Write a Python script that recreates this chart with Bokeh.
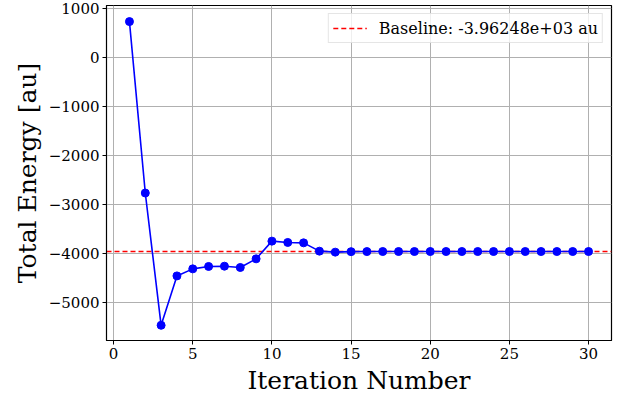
from bokeh.plotting import figure
from bokeh.models import FixedTicker, Range1d, Legend, LegendItem, ColumnDataSource
from bokeh.embed import file_html
from bokeh.resources import INLINE

iterations = [1, 2, 3, 4, 5, 6, 7, 8, 9, 10, 11, 12, 13, 14, 15,
              16, 17, 18, 19, 20, 21, 22, 23, 24, 25, 26, 27, 28, 29, 30]
energy = [740, -2766, -5471, -4461, -4317, -4268, -4262, -4289, -4112, -3750,
          -3777, -3785, -3955, -3975, -3965, -3963, -3962, -3962, -3962, -3962,
          -3962, -3962, -3962, -3962, -3962, -3962, -3962, -3962, -3962, -3962]
baseline = -3962.48
baseline_label = "Baseline: -3.96248e+03 au"
x_ticks = [0, 5, 10, 15, 20, 25, 30]
y_ticks = [-5000, -4000, -3000, -2000, -1000, 0, 1000]

FONT = "DejaVu Serif"

x_lo, x_hi = -0.45, 31.45
p = figure(width=617, height=397, output_backend="svg", toolbar_location=None,
           x_range=Range1d(x_lo, x_hi), y_range=Range1d(-5782, 1069),
           min_border_left=106, min_border_right=6, min_border_top=5, min_border_bottom=57)
p.background_fill_color = "white"
p.border_fill_color = "white"
p.outline_line_color = "black"
p.outline_line_width = 1.2

bsrc = ColumnDataSource(dict(x=[x_lo, x_hi], y=[baseline, baseline]))
base_r = p.line("x", "y", source=bsrc, line_color="#ff0000", line_dash="5 3", line_width=1.5)

src = ColumnDataSource(dict(x=iterations, y=energy))
p.line("x", "y", source=src, line_color="#0000ff", line_width=1.6)
p.scatter("x", "y", source=src, size=8, fill_color="#0000ff", line_color="#0000ff")

legend = Legend(items=[LegendItem(label=baseline_label, renderers=[base_r])],
                location="top_right")
legend.label_text_font = FONT
legend.label_text_font_size = "16px"
legend.label_text_color = "black"
legend.border_line_color = "#cccccc"
legend.border_line_width = 1
legend.background_fill_color = "white"
legend.background_fill_alpha = 0.8
legend.padding = 4
legend.margin = 8
legend.glyph_width = 34
legend.label_standoff = 12
legend.label_height = 20
p.add_layout(legend)

p.xaxis.ticker = FixedTicker(ticks=x_ticks)
p.yaxis.ticker = FixedTicker(ticks=y_ticks)
p.yaxis.major_label_overrides = {t: (("\u2212" + str(-t)) if t < 0 else str(t)) for t in y_ticks}

for ax in (p.xaxis, p.yaxis):
    ax.major_label_text_font = FONT
    ax.major_label_text_font_size = "15px"
    ax.major_label_text_color = "black"
    ax.axis_label_text_font = FONT
    ax.axis_label_text_font_size = "25px"
    ax.axis_label_text_font_style = "normal"
    ax.axis_label_text_color = "black"
    ax.minor_tick_line_color = None
    ax.major_tick_in = 0
    ax.major_tick_out = 4
    ax.major_tick_line_color = "black"
    ax.axis_line_color = "black"
    ax.major_label_standoff = 3
    ax.axis_label_standoff = 4

p.xaxis.axis_label = "Iteration Number"
p.yaxis.axis_label = "Total Energy [au]"

p.grid.grid_line_color = "#b0b0b0"
p.grid.grid_line_width = 1

open("out.html", "w").write(file_html(p, INLINE))
